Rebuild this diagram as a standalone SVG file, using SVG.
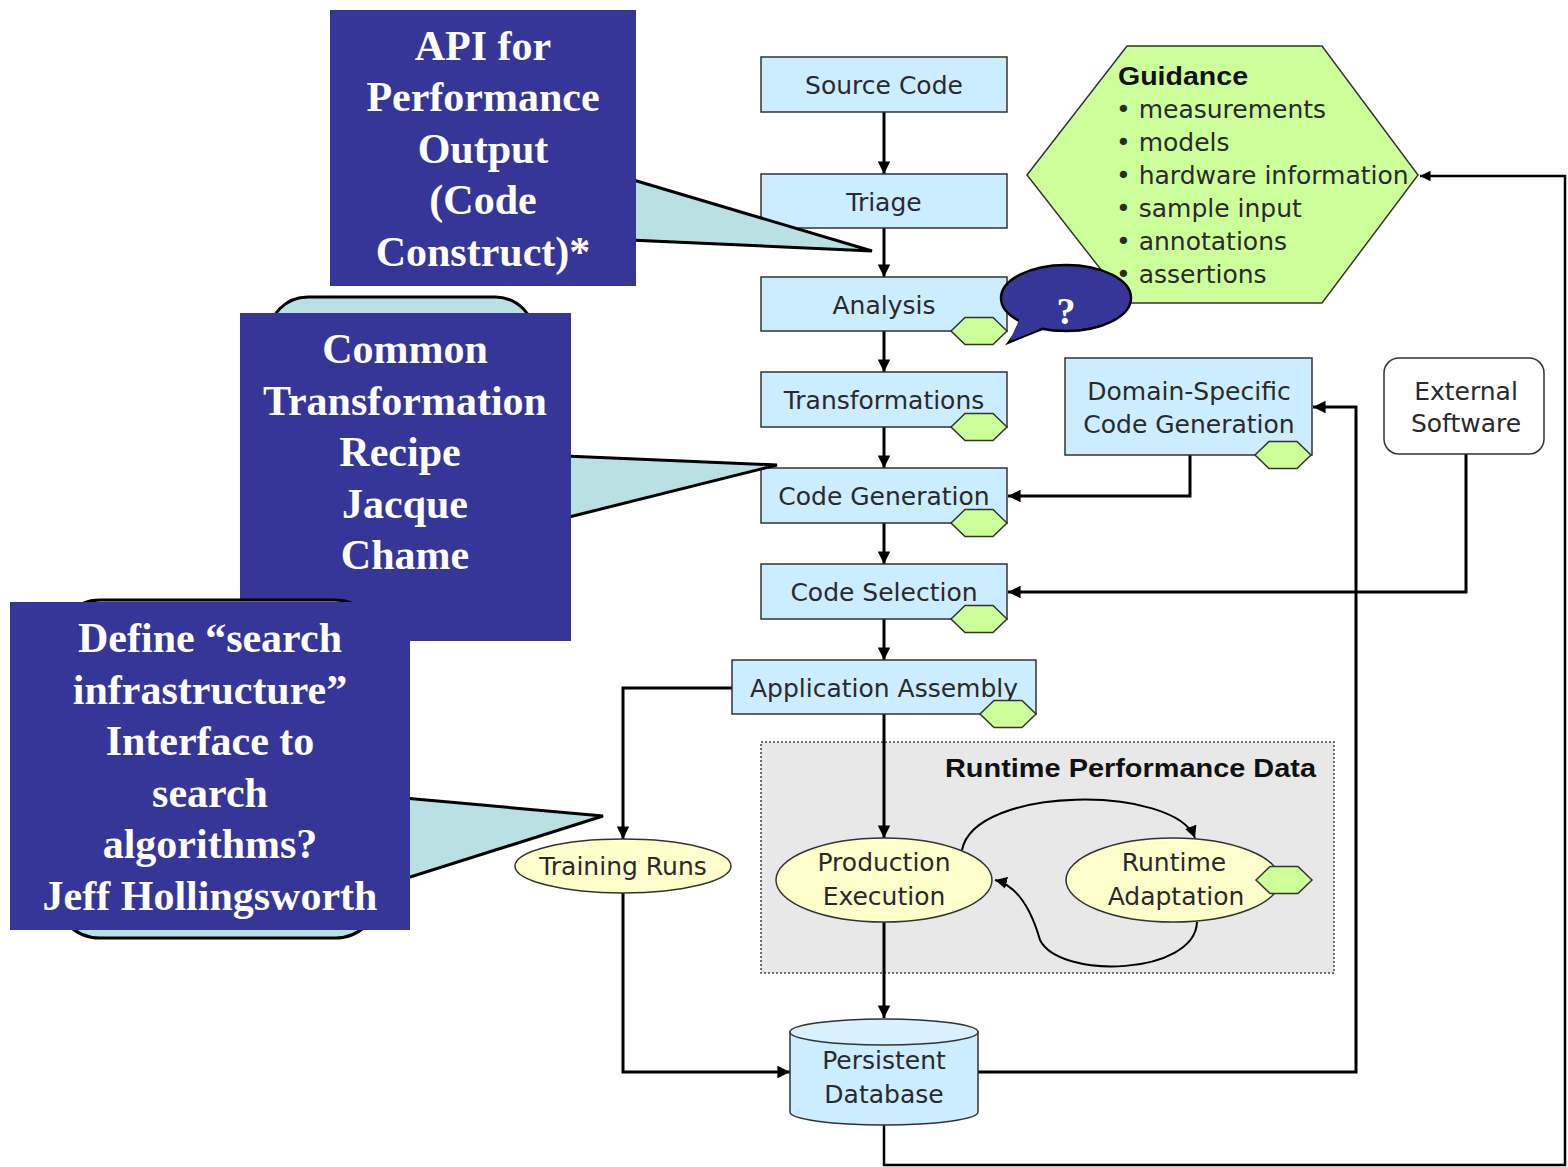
<svg xmlns="http://www.w3.org/2000/svg" xmlns:xlink="http://www.w3.org/1999/xlink" width="1568" height="1167" viewBox="0 0 1568 1167">
<style>
.box{fill:#CCECFF;stroke:#333;stroke-width:1.5}
.ell{fill:#FFFFCC;stroke:#333;stroke-width:1.5}
.hx{fill:#CCFF99;stroke:#333;stroke-width:1.5}
.t{font-family:"DejaVu Sans","Liberation Sans",sans-serif;font-size:25px;fill:#2a2a2a;text-anchor:middle}
.tl{font-family:"DejaVu Sans","Liberation Sans",sans-serif;font-size:25px;fill:#2a2a2a}
.hb{font-family:"Liberation Sans",Arial,sans-serif;font-size:25px;font-weight:bold;fill:#111}
.c{fill:none;stroke:#000;stroke-width:3}
.cc{fill:none;stroke:#000;stroke-width:2}
.blue{fill:#363699}
.tail{fill:#B9E0E2;stroke:#000;stroke-width:3;stroke-linejoin:miter}
.ct{font-family:"Liberation Serif","Times New Roman",serif;font-size:42px;font-weight:bold;fill:#fff;text-anchor:middle}
</style>
<defs>
<marker id="ah" viewBox="0 0 10 10" refX="10" refY="5" markerWidth="4.2" markerHeight="4.2" orient="auto" markerUnits="strokeWidth"><path d="M0,0 L10,5 L0,10 Z" fill="#000"/></marker>
<marker id="ah2" viewBox="0 0 10 10" refX="10" refY="5" markerWidth="6" markerHeight="6" orient="auto" markerUnits="strokeWidth"><path d="M0,0 L10,5 L0,10 Z" fill="#000"/></marker>
<polygon id="hex" class="hx" points="-28,0 -14,-13.5 14,-13.5 28,0 14,13.5 -14,13.5"/>
</defs>

<g id="runtime-group">
<rect x="761" y="742" width="573" height="231" fill="#E8E8E8" stroke="#444" stroke-width="1.5" stroke-dasharray="2 2"/>
<text class="hb" x="945" y="777" textLength="371" lengthAdjust="spacingAndGlyphs">Runtime Performance Data</text>
</g>

<g id="connectors">
<line class="c" x1="884" y1="112" x2="884" y2="174" marker-end="url(#ah)"/>
<line class="c" x1="884" y1="228" x2="884" y2="277" marker-end="url(#ah)"/>
<line class="c" x1="884" y1="331" x2="884" y2="372" marker-end="url(#ah)"/>
<line class="c" x1="884" y1="427" x2="884" y2="468" marker-end="url(#ah)"/>
<line class="c" x1="884" y1="523" x2="884" y2="564" marker-end="url(#ah)"/>
<line class="c" x1="884" y1="619" x2="884" y2="660" marker-end="url(#ah)"/>
<line class="c" x1="884" y1="714" x2="884" y2="838" marker-end="url(#ah)"/>
<polyline class="c" points="732,688 623,688 623,839" marker-end="url(#ah)"/>
<line class="c" x1="884" y1="922" x2="884" y2="1018" marker-end="url(#ah)"/>
<polyline class="c" points="623,893 623,1072 790,1072" marker-end="url(#ah)"/>
<polyline class="c" points="1190,455 1190,496 1008,496" marker-end="url(#ah)"/>
<polyline class="c" points="1466,454 1466,592 1008,592" marker-end="url(#ah)"/>
<polyline class="c" points="978,1072 1356,1072 1356,407 1313,407" marker-end="url(#ah)"/>
<polyline class="c" points="884,1125 884,1165 1565,1165 1565,176 1420,176" marker-end="url(#ah)" style="stroke-width:2.5"/>
<path class="cc" d="M962,850 C975,785 1175,785 1195,838" marker-end="url(#ah2)"/>
<path class="cc" d="M1197,922 C1195,975 1060,980 1040,940 C1030,905 1015,885 995,880" marker-end="url(#ah2)"/>
</g>

<g id="source-code"><rect class="box" x="761" y="57" width="246" height="55"/><text class="t" x="884" y="94">Source Code</text></g>
<g id="triage"><rect class="box" x="761" y="174" width="246" height="54"/><text class="t" x="884" y="211">Triage</text></g>
<g id="analysis"><rect class="box" x="761" y="277" width="246" height="54"/><text class="t" x="884" y="314">Analysis</text><use xlink:href="#hex" x="979" y="331"/></g>
<g id="transformations"><rect class="box" x="761" y="372" width="246" height="55"/><text class="t" x="884" y="409">Transformations</text><use xlink:href="#hex" x="979" y="427"/></g>
<g id="code-generation"><rect class="box" x="761" y="468" width="246" height="55"/><text class="t" x="884" y="505">Code Generation</text><use xlink:href="#hex" x="979" y="523"/></g>
<g id="code-selection"><rect class="box" x="761" y="564" width="246" height="55"/><text class="t" x="884" y="601">Code Selection</text><use xlink:href="#hex" x="979" y="619"/></g>
<g id="application-assembly"><rect class="box" x="732" y="660" width="304" height="54"/><text class="t" x="884" y="697">Application Assembly</text><use xlink:href="#hex" x="1008" y="714"/></g>
<g id="domain-specific"><rect class="box" x="1065" y="358" width="247" height="97"/><text class="t" x="1189" y="400">Domain-Specific</text><text class="t" x="1189" y="433">Code Generation</text><use xlink:href="#hex" x="1283" y="455"/></g>
<g id="external-software"><rect x="1384" y="358" width="160" height="96" rx="15" fill="#fff" stroke="#333" stroke-width="1.5"/><text class="t" x="1466" y="400">External</text><text class="t" x="1466" y="432">Software</text></g>
<g id="guidance"><polygon points="1027,175 1127,46 1322,46 1418,175 1322,303 1127,303" fill="#CCFF99" stroke="#333" stroke-width="1.5"/>
<text class="hb" x="1118" y="85" textLength="130" lengthAdjust="spacingAndGlyphs">Guidance</text>
<text class="tl" x="1116" y="118">• measurements</text>
<text class="tl" x="1116" y="151">• models</text>
<text class="tl" x="1116" y="184">• hardware information</text>
<text class="tl" x="1116" y="217">• sample input</text>
<text class="tl" x="1116" y="250">• annotations</text>
<text class="tl" x="1116" y="283">• assertions</text>
</g>
<g id="production-execution"><ellipse class="ell" cx="884" cy="880" rx="108" ry="42"/><text class="t" x="884" y="871">Production</text><text class="t" x="884" y="905">Execution</text></g>
<g id="runtime-adaptation"><ellipse class="ell" cx="1173" cy="880" rx="107" ry="42"/><text class="t" x="1174" y="871">Runtime</text><text class="t" x="1176" y="905">Adaptation</text><use xlink:href="#hex" x="1284" y="880"/></g>
<g id="training-runs"><ellipse class="ell" cx="623" cy="866" rx="108" ry="27"/><text class="t" x="623" y="875">Training Runs</text></g>
<g id="persistent-database">
<path d="M790,1032 L790,1112 A94,13 0 0 0 978,1112 L978,1032 Z" fill="#CCECFF" stroke="#333" stroke-width="1.5"/>
<ellipse cx="884" cy="1032" rx="94" ry="13" fill="#D8F0FF" stroke="#333" stroke-width="1.5"/>
<text class="t" x="884" y="1069">Persistent</text><text class="t" x="884" y="1103">Database</text>
</g>

<g id="question-bubble">
<path d="M1023,322 L1008,343 L1045,328" fill="#363699" stroke="#000" stroke-width="2"/>
<ellipse cx="1066" cy="298" rx="65" ry="33" fill="#363699" stroke="#000" stroke-width="2.5"/>
<path d="M1020,318 L1010,340 L1046,326 Z" fill="#363699"/>
<text x="1066" y="324" style="font-family:'Liberation Serif',serif;font-size:38px;font-weight:bold;fill:#fff;text-anchor:middle">?</text>
</g>

<g id="callout-api">
<polygon class="tail" points="630,179 872,251 630,240"/>
<rect class="blue" x="330" y="10" width="306" height="276"/>
<text class="ct" x="483" y="60">API for</text>
<text class="ct" x="483" y="111">Performance</text>
<text class="ct" x="483" y="163">Output</text>
<text class="ct" x="483" y="214">(Code</text>
<text class="ct" x="483" y="266">Construct)*</text>
</g>

<g id="callout-recipe">
<rect x="268" y="297" width="267" height="320" rx="40" fill="#B9E0E2" stroke="#000" stroke-width="3"/>
<polygon class="tail" points="565,456 777,465 565,518"/>
<rect class="blue" x="240" y="313" width="331" height="328"/>
<text class="ct" x="405" y="363">Common</text>
<text class="ct" x="405" y="415">Transformation</text>
<text class="ct" x="400" y="466">Recipe</text>
<text class="ct" x="405" y="518">Jacque</text>
<text class="ct" x="405" y="569">Chame</text>
</g>

<g id="callout-search">
<rect x="55" y="600" width="325" height="338" rx="45" fill="#B9E0E2" stroke="#000" stroke-width="3"/>
<polygon class="tail" points="404,798 603,816 404,879"/>
<rect class="blue" x="10" y="602" width="400" height="328"/>
<text class="ct" x="210" y="652">Define “search</text>
<text class="ct" x="210" y="704">infrastructure”</text>
<text class="ct" x="210" y="755">Interface to</text>
<text class="ct" x="210" y="807">search</text>
<text class="ct" x="210" y="858">algorithms?</text>
<text class="ct" x="210" y="910">Jeff Hollingsworth</text>
</g>
</svg>
